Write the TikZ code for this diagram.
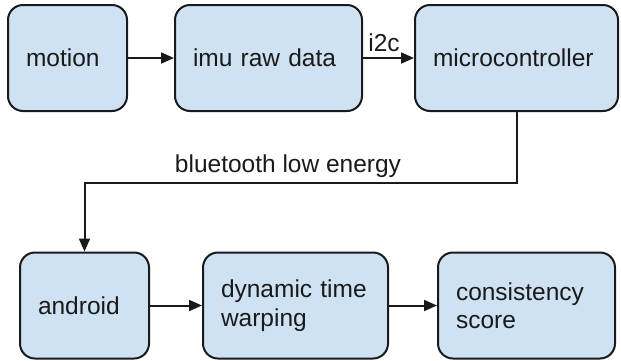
\documentclass[tikz,border=0pt]{standalone}
\usepackage{fontspec}
\setmainfont{Liberation Sans}
\usetikzlibrary{arrows.meta}
\definecolor{boxfill}{HTML}{CFE2F3}
\definecolor{ink}{HTML}{1A1A1A}
\tikzset{
  blk/.style={draw=ink, fill=boxfill, line width=2pt, rounded corners=15pt,
    minimum height=106pt, inner xsep=18pt, inner ysep=0pt, align=left,
    font=\fontsize{24.5}{28.5}\selectfont, text=ink},
  conn/.style={draw=ink, line width=2pt, -{Triangle[length=13pt,width=11pt]}},
  lbl/.style={font=\fontsize{24.5}{28.5}\selectfont, text=ink, inner sep=0pt}
}
\begin{document}
\begin{tikzpicture}[x=1pt,y=-1pt]
\useasboundingbox (0,0) rectangle (621,360);
\node[blk, minimum width=119pt, text width=83pt] (motion) at (67.5,58) {motion};
\node[blk, minimum width=187pt, text width=151pt] (imu) at (268.5,58) {imu raw data};
\node[blk, minimum width=203pt, text width=167pt] (micro) at (516.5,58) {microcontroller};
\node[blk, minimum width=129pt, text width=93pt] (android) at (84.5,305.5) {android};
\node[blk, minimum width=185pt, text width=149pt] (dtw) at (295.5,305.5) {dynamic time\\warping};
\node[blk, minimum width=177pt, text width=141pt] (cons) at (526.5,305.5) {consistency\\score};
\draw[conn] (motion) -- (imu);
\draw[conn] (imu) -- (micro);
\node[lbl] (i2c) at (384,43) {i2c};
\draw[conn] (micro.south) -- ++(0,71) coordinate (bend) -| (android.north);
\node[lbl] (ble) at (288,166) {bluetooth low energy};
\draw[conn] (android) -- (dtw);
\draw[conn] (dtw) -- (cons);
\end{tikzpicture}
\end{document}
